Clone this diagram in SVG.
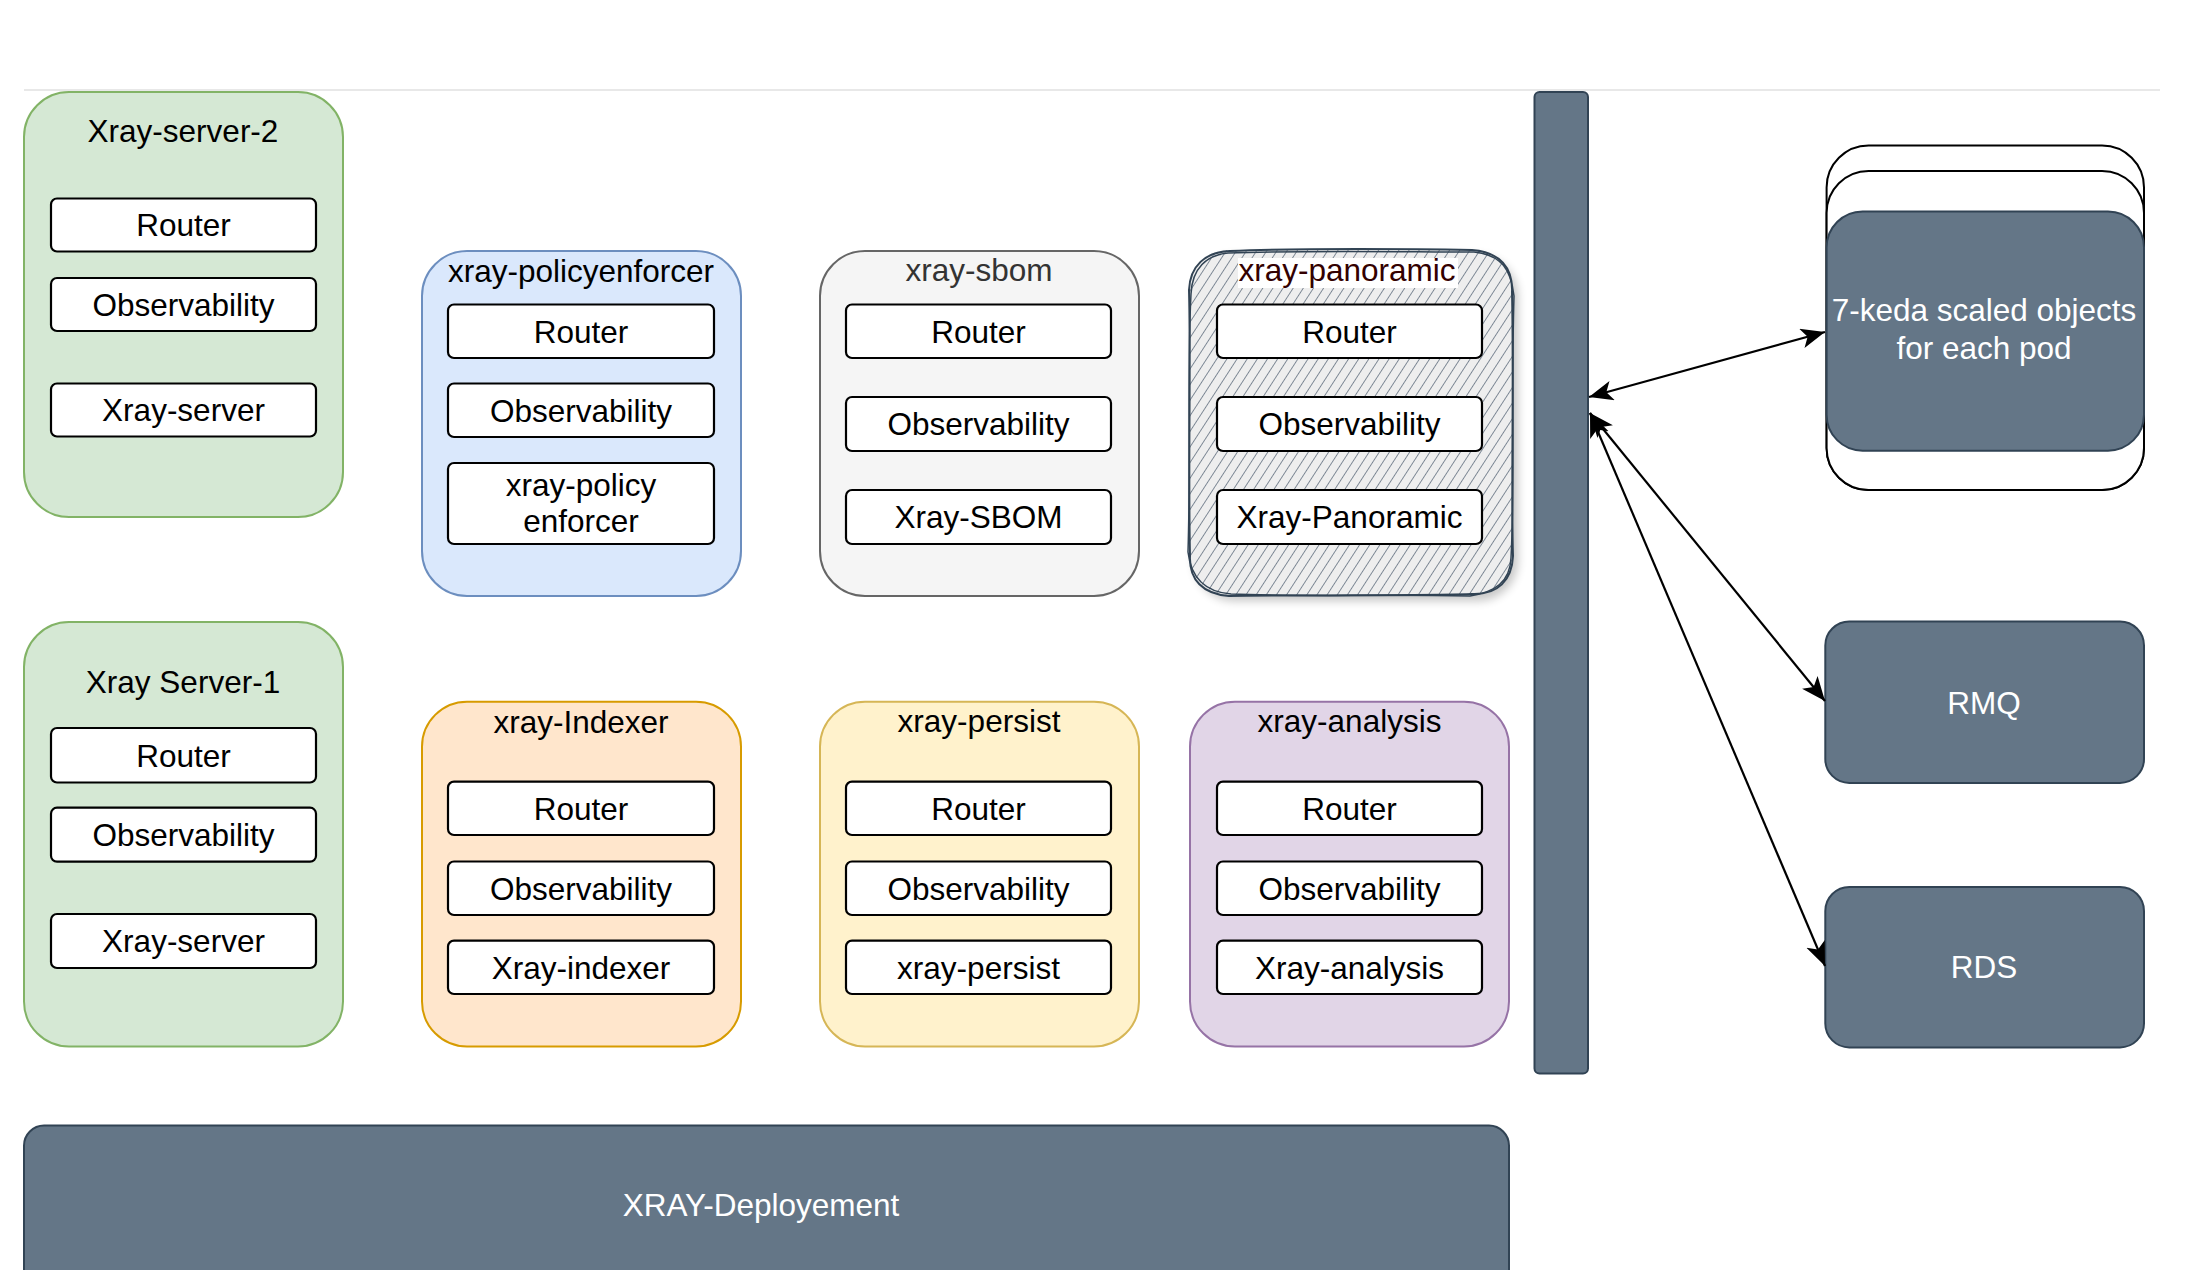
<svg xmlns="http://www.w3.org/2000/svg" width="2198" height="1270" viewBox="0 0 2198 1270">
<style>
text{font-family:"Liberation Sans",Arial,Helvetica,sans-serif;font-size:31.5px;text-anchor:middle;fill:#000}
.inner{fill:#fff;stroke:#000;stroke-width:2.2}
.dark{fill:#647687;stroke:#314354;stroke-width:2}
.wt{fill:#fff}
.conn{fill:none;stroke:#000;stroke-width:2.2}
</style>
<defs>
<marker id="ah" markerUnits="userSpaceOnUse" markerWidth="26" markerHeight="22" refX="24" refY="10" orient="auto-start-reverse" viewBox="0 0 26 22">
<path d="M0,0 L24,10 L0,20 L6,10 z" fill="#000"/>
</marker>
<pattern id="hatch" patternUnits="userSpaceOnUse" width="8.5" height="9" patternTransform="rotate(33)">
<line x1="0" y1="0" x2="0" y2="9" stroke="#5d6b7b" stroke-width="1.5"/>
</pattern>
<filter id="shadow" x="-10%" y="-10%" width="130%" height="130%">
<feGaussianBlur stdDeviation="5"/>
</filter>
</defs>
<rect width="2198" height="1270" fill="#fff"/>
<line x1="24" y1="90" x2="2160" y2="90" stroke="#e8e8e8" stroke-width="2"/>

<g id="xray-server-2">
<rect x="24" y="92" width="319" height="425" rx="45" fill="#d5e8d4" stroke="#82b366" stroke-width="2"/>
<text x="183" y="142">Xray-server-2</text>
<rect class="inner" x="51" y="198.5" width="265" height="53" rx="6"/>
<text x="183.5" y="236">Router</text>
<rect class="inner" x="51" y="278" width="265" height="53" rx="6"/>
<text x="183.5" y="315.5">Observability</text>
<rect class="inner" x="51" y="383.5" width="265" height="53" rx="6"/>
<text x="183.5" y="421">Xray-server</text>
</g>

<g id="xray-policyenforcer">
<rect x="422" y="251" width="319" height="345" rx="45" fill="#dae8fc" stroke="#6c8ebf" stroke-width="2"/>
<text x="581" y="282">xray-policyenforcer</text>
<rect class="inner" x="448" y="304.5" width="266" height="53.5" rx="6"/>
<text x="581" y="342.5">Router</text>
<rect class="inner" x="448" y="383.5" width="266" height="53.5" rx="6"/>
<text x="581" y="421.5">Observability</text>
<rect class="inner" x="448" y="463" width="266" height="81" rx="6"/>
<text x="581" y="496">xray-policy</text>
<text x="581" y="532">enforcer</text>
</g>

<g id="xray-sbom">
<rect x="820" y="251" width="319" height="345" rx="45" fill="#f5f5f5" stroke="#666" stroke-width="2"/>
<text x="979" y="281" style="fill:#333">xray-sbom</text>
<rect class="inner" x="846" y="304.5" width="265" height="53.5" rx="6"/>
<text x="978.5" y="342.5">Router</text>
<rect class="inner" x="846" y="397" width="265" height="54" rx="6"/>
<text x="978.5" y="435">Observability</text>
<rect class="inner" x="846" y="490" width="265" height="54" rx="6"/>
<text x="978.5" y="528">Xray-SBOM</text>
</g>

<g id="xray-panoramic">
<rect x="1194" y="256" width="324" height="345" rx="40" fill="#000" opacity="0.22" filter="url(#shadow)"/>
<rect x="1189" y="250" width="324" height="345" rx="40" fill="#eeeeee"/>
<rect x="1189" y="250" width="324" height="345" rx="40" fill="url(#hatch)"/>
<path d="M1230,251 C1300,248 1420,249 1472,250 C1500,252 1513,268 1512,292 C1514,380 1511,500 1513,556 C1512,580 1498,595 1472,594 C1400,596 1290,595 1229,596 C1203,594 1189,580 1190,556 C1188,470 1191,360 1189,290 C1190,266 1205,252 1230,251 Z" fill="none" stroke="#314354" stroke-width="2"/>
<path d="M1228,253 C1310,250 1410,252 1474,252 C1502,255 1511,270 1514,296 C1511,390 1515,490 1511,558 C1510,582 1495,592 1470,596 C1380,594 1300,597 1231,594 C1205,592 1191,578 1188,552 C1191,460 1187,370 1191,294 C1192,268 1207,255 1228,253 Z" fill="none" stroke="#314354" stroke-width="1.5"/>
<rect x="1238" y="258" width="220" height="30" fill="#fff"/>
<text x="1347" y="281" style="fill:#330000">xray-panoramic</text>
<rect class="inner" x="1217" y="304.5" width="265" height="53.5" rx="6"/>
<text x="1349.5" y="342.5">Router</text>
<rect class="inner" x="1217" y="397" width="265" height="54" rx="6"/>
<text x="1349.5" y="435">Observability</text>
<rect class="inner" x="1217" y="490" width="265" height="54" rx="6"/>
<text x="1349.5" y="528">Xray-Panoramic</text>
</g>

<g id="xray-server-1">
<rect x="24" y="622" width="319" height="424.5" rx="45" fill="#d5e8d4" stroke="#82b366" stroke-width="2"/>
<text x="183" y="693">Xray Server-1</text>
<rect class="inner" x="51" y="728" width="265" height="54.5" rx="6"/>
<text x="183.5" y="766.5">Router</text>
<rect class="inner" x="51" y="807.7" width="265" height="54" rx="6"/>
<text x="183.5" y="845.5">Observability</text>
<rect class="inner" x="51" y="914" width="265" height="54" rx="6"/>
<text x="183.5" y="952">Xray-server</text>
</g>

<g id="xray-indexer">
<rect x="422" y="701.7" width="319" height="344.8" rx="45" fill="#ffe6cc" stroke="#d79b00" stroke-width="2"/>
<text x="581" y="732.5">xray-Indexer</text>
<rect class="inner" x="448" y="781.6" width="266" height="53.4" rx="6"/>
<text x="581" y="819.5">Router</text>
<rect class="inner" x="448" y="861.5" width="266" height="53.5" rx="6"/>
<text x="581" y="899.5">Observability</text>
<rect class="inner" x="448" y="940.6" width="266" height="53.4" rx="6"/>
<text x="581" y="978.5">Xray-indexer</text>
</g>

<g id="xray-persist">
<rect x="820" y="701.7" width="319" height="344.8" rx="45" fill="#fff2cc" stroke="#d6b656" stroke-width="2"/>
<text x="979" y="732">xray-persist</text>
<rect class="inner" x="846" y="781.6" width="265" height="53.4" rx="6"/>
<text x="978.5" y="819.5">Router</text>
<rect class="inner" x="846" y="861.5" width="265" height="53.5" rx="6"/>
<text x="978.5" y="899.5">Observability</text>
<rect class="inner" x="846" y="940.6" width="265" height="53.4" rx="6"/>
<text x="978.5" y="978.5">xray-persist</text>
</g>

<g id="xray-analysis">
<rect x="1190" y="701.7" width="319" height="344.8" rx="45" fill="#e1d5e7" stroke="#9673a6" stroke-width="2"/>
<text x="1349.5" y="732">xray-analysis</text>
<rect class="inner" x="1217" y="781.6" width="265" height="53.4" rx="6"/>
<text x="1349.5" y="819.5">Router</text>
<rect class="inner" x="1217" y="861.5" width="265" height="53.5" rx="6"/>
<text x="1349.5" y="899.5">Observability</text>
<rect class="inner" x="1217" y="940.6" width="265" height="53.4" rx="6"/>
<text x="1349.5" y="978.5">Xray-analysis</text>
</g>

<g id="xray-deployement">
<rect class="dark" x="24" y="1125.6" width="1485" height="170" rx="20"/>
<text class="wt" x="761" y="1216">XRAY-Deployement</text>
</g>

<g id="bus">
<rect class="dark" x="1534.5" y="92" width="53.5" height="981.5" rx="5"/>
</g>

<g id="keda">
<rect x="1826.6" y="145.5" width="317.4" height="344.5" rx="42" fill="#fff" stroke="#000" stroke-width="2"/>
<rect x="1826.6" y="171" width="317.4" height="319" rx="42" fill="#fff" stroke="#000" stroke-width="2"/>
<rect class="dark" x="1826.6" y="211.5" width="317.4" height="239.2" rx="36"/>
<text class="wt" x="1984" y="321">7-keda scaled objects</text>
<text class="wt" x="1984" y="359">for each pod</text>
</g>

<g id="rmq">
<rect class="dark" x="1825.3" y="621.4" width="318.7" height="161.5" rx="24"/>
<text class="wt" x="1984" y="713.7">RMQ</text>
</g>

<g id="rds">
<rect class="dark" x="1825.3" y="887" width="318.7" height="160.4" rx="24"/>
<text class="wt" x="1984" y="977.7">RDS</text>
</g>

<g id="connectors">
<line class="conn" x1="1589" y1="397" x2="1825" y2="332" marker-start="url(#ah)" marker-end="url(#ah)"/>
<line class="conn" x1="1590" y1="413" x2="1825" y2="701" marker-start="url(#ah)" marker-end="url(#ah)"/>
<line class="conn" x1="1590" y1="413" x2="1825" y2="966" marker-start="url(#ah)" marker-end="url(#ah)"/>
</g>
</svg>
